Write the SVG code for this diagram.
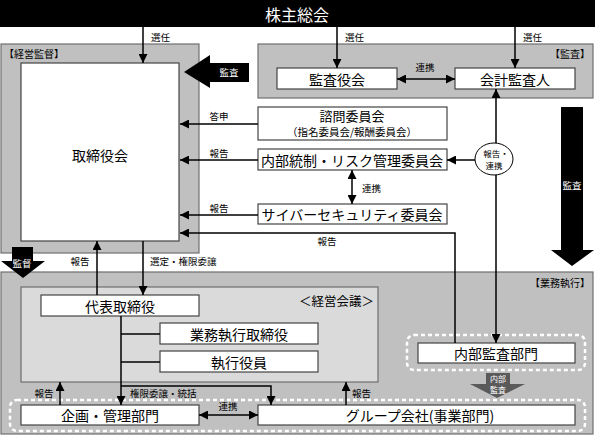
<svg xmlns="http://www.w3.org/2000/svg" width="595" height="435" viewBox="0 0 595 435">
<style>
text{font-family:"Noto Sans CJK JP","Noto Sans",sans-serif;fill:#000;dominant-baseline:central}
.panel{fill:#c0c0c0;stroke:#6e6e6e;stroke-width:1.2}
.inner{fill:#dadada;stroke:#6e6e6e;stroke-width:1.2}
.box{fill:#fff;stroke:#444;stroke-width:1.2}
.bt{font-size:14px;text-anchor:middle}
.lb{font-size:9.5px}
.mid{text-anchor:middle}
.end{text-anchor:end}
.wt{fill:#fff}
.ln{fill:none;stroke:#000;stroke-width:1.5}
.dash{fill:none;stroke:#fff;stroke-width:2.5;stroke-dasharray:4 3}
</style>
<defs>
<marker id="ah" viewBox="0 0 10 10" refX="10" refY="5" markerWidth="9" markerHeight="9" markerUnits="userSpaceOnUse" orient="auto-start-reverse"><path d="M0,0 L10,5 L0,10 z" fill="#000"/></marker>
</defs>
<rect width="595" height="435" fill="#fff"/>

<!-- panels -->
<g id="panel-supervision">
<rect class="panel" x="1" y="44" width="198" height="209"/>
<text class="lb" x="4" y="53" style="font-size:10px">【経営監督】</text>
</g>
<g id="panel-audit">
<rect class="panel" x="258" y="44" width="335" height="54"/>
<text class="lb end" x="590" y="53" style="font-size:10px">【監査】</text>
</g>
<g id="panel-execution">
<rect class="panel" x="1" y="272" width="592" height="162"/>
<text class="lb end" x="590" y="282" style="font-size:10px">【業務執行】</text>
</g>
<g id="panel-management-meeting">
<rect class="inner" x="21" y="287" width="357" height="95"/>
<text x="374" y="300" class="end" style="font-size:12.5px">＜経営会議＞</text>
</g>

<!-- nodes -->
<g id="shareholders">
<rect x="0" y="0" width="595" height="27" fill="#000"/>
<text x="297" y="14" class="mid wt" style="font-size:16px">株主総会</text>
</g>
<g id="board">
<rect class="box" x="21" y="63" width="158" height="178"/>
<text class="bt" x="100" y="155">取締役会</text>
</g>
<g id="auditors">
<rect class="box" x="277" y="68" width="120" height="21"/>
<text class="bt" x="337" y="79">監査役会</text>
</g>
<g id="accounting-auditor">
<rect class="box" x="455" y="68" width="120" height="21"/>
<text class="bt" x="515" y="79">会計監査人</text>
</g>
<g id="advisory">
<rect class="box" x="258" y="107" width="189" height="33"/>
<text class="bt" x="352" y="115" style="font-size:13px">諮問委員会</text>
<text class="mid" x="352" y="131.5" style="font-size:10.5px">（指名委員会/報酬委員会）</text>
</g>
<g id="internal-control">
<rect class="box" x="258" y="149" width="189" height="21"/>
<text class="bt" x="352" y="160">内部統制・リスク管理委員会</text>
</g>
<g id="cyber">
<rect class="box" x="258" y="204" width="189" height="20"/>
<text class="bt" x="352" y="214">サイバーセキュリティ委員会</text>
</g>
<g id="report-link">
<ellipse cx="494" cy="159" rx="19" ry="16" fill="#fff" stroke="#000" stroke-width="1"/>
<text class="mid" x="496" y="152.5" style="font-size:8.5px">報告・</text>
<text class="mid" x="494" y="165" style="font-size:8.5px">連携</text>
</g>
<g id="president">
<rect class="box" x="41" y="295" width="158" height="21"/>
<text class="bt" x="120" y="306">代表取締役</text>
</g>
<g id="exec-directors">
<rect class="box" x="160" y="323" width="158" height="21"/>
<text class="bt" x="239" y="334">業務執行取締役</text>
</g>
<g id="officers">
<rect class="box" x="160" y="351" width="158" height="21"/>
<text class="bt" x="239" y="362">執行役員</text>
</g>
<g id="internal-audit">
<rect class="dash" x="407" y="335" width="178" height="35" rx="7"/>
<rect class="box" x="418" y="343" width="157" height="20"/>
<text class="bt" x="496" y="353">内部監査部門</text>
</g>
<g id="bottom-group-frame">
<rect class="dash" x="10" y="400" width="575" height="31" rx="7"/>
</g>
<g id="planning">
<rect class="box" x="21" y="405" width="178" height="20"/>
<text class="bt" x="110" y="415">企画・管理部門</text>
</g>
<g id="group-companies">
<rect class="box" x="258" y="405" width="317" height="20"/>
<text class="bt" x="420" y="415">グループ会社(事業部門)</text>
</g>

<!-- big arrows -->
<g id="big-arrows">
<polygon points="184,72 210,55 210,63 249,63 249,82 210,82 210,88" fill="#000"/>
<text class="lb mid wt" x="229" y="72">監査</text>
<polygon points="561,107 583,107 583,250 594,250 572,266 551,250 561,250" fill="#000"/>
<text class="lb mid wt" x="572" y="185">監査</text>
<polygon points="12,247 33,247 33,261 45,261 23,278 1,261 12,261" fill="#000"/>
<text class="lb mid wt" x="22" y="263">監督</text>
<polygon points="486,373 510,373 510,384 525,384 497,398 470,384 486,384" fill="#5a5a5a"/>
<text class="mid wt" x="498" y="378.5" style="font-size:8px">内部</text>
<text class="mid wt" x="498" y="389.5" style="font-size:8px">監査</text>
</g>

<!-- connectors -->
<g id="connectors">
<line class="ln" x1="143" y1="27" x2="143" y2="63" marker-end="url(#ah)"/>
<line class="ln" x1="337" y1="27" x2="337" y2="68" marker-end="url(#ah)"/>
<line class="ln" x1="515" y1="27" x2="515" y2="68" marker-end="url(#ah)"/>
<line class="ln" x1="397" y1="79" x2="455" y2="79" marker-start="url(#ah)" marker-end="url(#ah)"/>
<line class="ln" x1="258" y1="124" x2="180" y2="124" marker-end="url(#ah)"/>
<line class="ln" x1="258" y1="160" x2="180" y2="160" marker-end="url(#ah)"/>
<line class="ln" x1="258" y1="215" x2="180" y2="215" marker-end="url(#ah)"/>
<polyline class="ln" points="455,343 455,233 180,233" marker-end="url(#ah)"/>
<line class="ln" x1="352" y1="170" x2="352" y2="204" marker-start="url(#ah)" marker-end="url(#ah)"/>
<line class="ln" x1="496" y1="89" x2="496" y2="143"  marker-start="url(#ah)"/>
<line class="ln" x1="496" y1="175" x2="496" y2="343" marker-end="url(#ah)"/>
<line class="ln" x1="475" y1="160" x2="447" y2="160" marker-end="url(#ah)"/>
<line class="ln" x1="97" y1="295" x2="97" y2="241" marker-end="url(#ah)"/>
<line class="ln" x1="143" y1="241" x2="143" y2="295" marker-end="url(#ah)"/>
<line class="ln" x1="121" y1="316" x2="121" y2="405" marker-end="url(#ah)"/>
<line class="ln" x1="121" y1="334" x2="160" y2="334"/>
<line class="ln" x1="121" y1="362" x2="160" y2="362"/>
<polyline class="ln" points="121,386 271,386 271,405" marker-end="url(#ah)"/>
<line class="ln" x1="199" y1="415" x2="258" y2="415" marker-start="url(#ah)" marker-end="url(#ah)"/>
<line class="ln" x1="60" y1="405" x2="60" y2="382" marker-end="url(#ah)"/>
<line class="ln" x1="346" y1="405" x2="346" y2="382" marker-end="url(#ah)"/>
</g>

<!-- connector labels -->
<g id="labels">
<text class="lb" x="151" y="37">選任</text>
<text class="lb" x="345" y="37">選任</text>
<text class="lb" x="523" y="37">選任</text>
<text class="lb mid" x="425" y="67">連携</text>
<text class="lb mid" x="219" y="116">答申</text>
<text class="lb mid" x="219" y="153">報告</text>
<text class="lb mid" x="219" y="208">報告</text>
<text class="lb mid" x="327" y="241">報告</text>
<text class="lb" x="362" y="188">連携</text>
<text class="lb mid" x="80" y="261">報告</text>
<text class="lb" x="150" y="261">選定・権限委譲</text>
<text class="lb mid" x="44" y="393">報告</text>
<text class="lb" x="130" y="393">権限委譲・統括</text>
<text class="lb mid" x="228" y="406">連携</text>
<text class="lb" x="352" y="393">報告</text>
</g>
</svg>
